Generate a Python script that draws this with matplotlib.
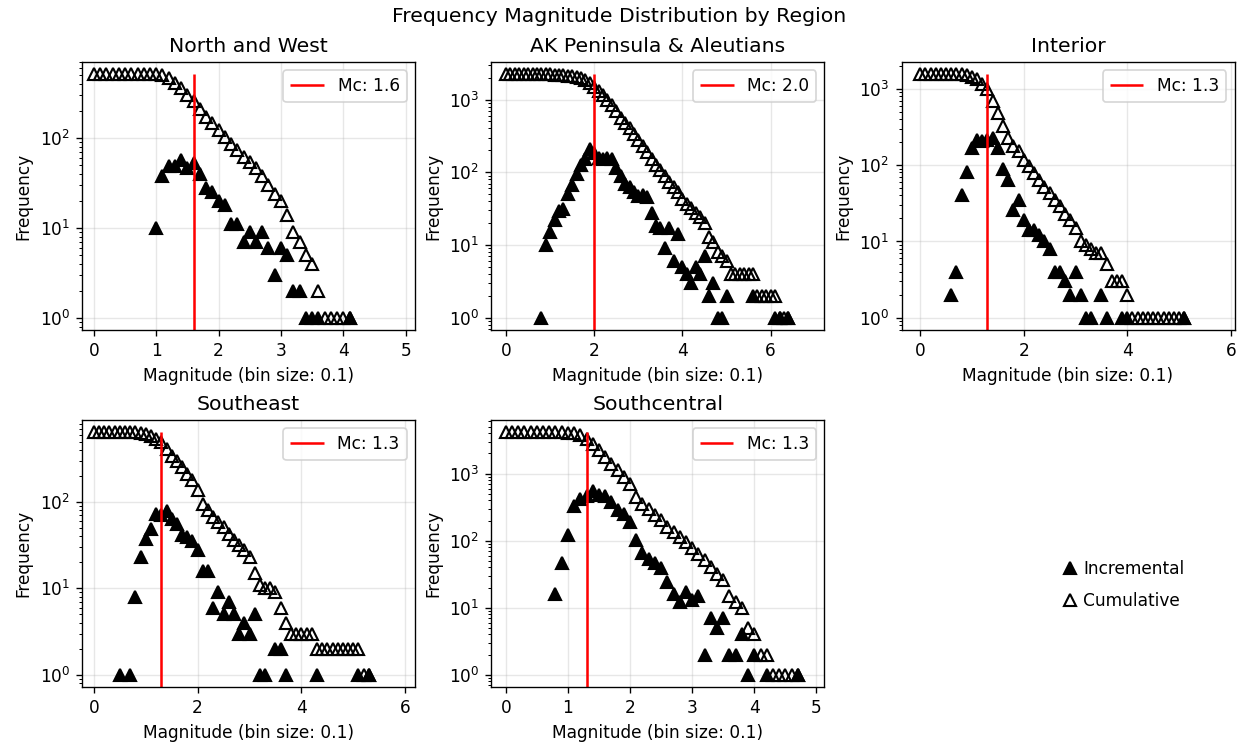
import numpy as np
import matplotlib
matplotlib.use("Agg")
import matplotlib.pyplot as plt
from matplotlib.lines import Line2D

# ---- data: event counts per 0.1 magnitude bin ----
regions = ["North and West", "AK Peninsula & Aleutians", "Interior", "Southeast", "Southcentral"]
mc_values = [1.6, 2.0, 1.3, 1.3, 1.3]

# first magnitude bin of each incremental series (cumulative series start at 0.0)
inc_start = [1.0, 0.8, 0.6, 0.5, 0.8]

nw_inc = [10, 38, 49, 49, 57, 46, 53, 40, 28, 25, 20, 18, 11, 11, 7, 9, 7, 9, 6, 3,
          6, 5, 2, 2, 1, 1, 1, 0, 0, 0, 0, 1]
nw_cum = [516] * 11 + [506, 462, 410, 360, 305, 262, 210, 173, 146, 122, 104, 86, 74, 62,
                       54, 46, 38, 30, 24, 20, 14, 9, 7, 5, 4, 2, 1, 1, 1, 1, 1]

ak_inc = [1, 10, 15, 22, 29, 31, 50, 67, 95, 124, 154, 211, 187, 158, 150, 158, 150, 115,
          88, 70, 62, 53, 47, 48, 46, 28, 18, 17, 9, 17, 6, 14, 5, 4, 3, 5, 4, 7, 2, 3,
          1, 1, 2, 0, 0, 0, 0, 0, 2, 0, 0, 0, 0, 1, 1, 0, 1]
ak_cum = [2230] * 9 + [2228, 2220, 2205, 2185, 2160, 2130, 2090, 2040, 1960, 1840, 1680,
                       1470, 1300, 1160, 1000, 830, 690, 560, 475, 405, 335, 280, 228, 190,
                       152, 125, 106, 90, 73, 62, 53, 43, 37, 32, 28, 24, 20, 13, 11, 8, 7,
                       6, 4, 4, 4, 4, 4, 4, 2, 2, 2, 2, 2, 1, 1, 1]

in_inc = [2, 4, 41, 82, 165, 212, 208, 212, 226, 165, 90, 63, 26, 35, 19, 14, 14, 12, 10,
          8, 4, 4, 3, 2, 4, 2, 1, 1, 0, 2, 1, 0, 0, 1, 1, 0, 0, 0, 0, 0, 0, 0, 0, 0, 0, 1]
in_cum = [1550] * 7 + [1548, 1544, 1503, 1440, 1330, 1170, 980, 690, 483, 323, 227, 176,
                       151, 117, 96, 78, 64, 52, 43, 35, 29, 23, 19, 15, 10, 9, 8, 7, 7, 5,
                       3, 3, 3, 2] + [1] * 11

se_inc = [1, 0, 1, 8, 23, 37, 49, 72, 70, 78, 63, 55, 41, 39, 35, 28, 16, 16, 6, 9, 5, 7,
          5, 3, 4, 3, 5, 1, 1, 0, 2, 2, 1, 0, 0, 0, 0, 0, 1, 0, 0, 0, 0, 0, 0, 0, 1, 0, 1]
se_cum = [644] * 9 + [636, 615, 588, 537, 491, 412, 345, 302, 253, 212, 178, 136, 96, 80,
                      67, 59, 51, 43, 36, 32, 28, 23, 15, 11, 10, 10, 9, 6, 4, 3, 3, 3, 3,
                      3] + [2] * 9 + [1, 1]

sc_inc = [16, 47, 121, 326, 420, 470, 560, 480, 465, 378, 285, 254, 191, 104, 65, 54, 47,
          39, 24, 16, 12, 17, 13, 15, 2, 7, 5, 7, 2, 2, 4, 1, 2, 0, 1, 0, 0, 0, 0, 1]
sc_cum = [4160] * 9 + [4144, 4097, 3976, 3710, 3310, 2790, 2220, 1770, 1407, 1120, 891,
                       709, 449, 357, 301, 240, 202, 161, 135, 114, 96, 77, 64, 51, 41, 32,
                       26, 15, 12, 10, 5, 4, 2, 2, 1, 1, 1, 1, 1]

incremental = [nw_inc, ak_inc, in_inc, se_inc, sc_inc]
cumulative = [nw_cum, ak_cum, in_cum, se_cum, sc_cum]

# ---- layout ----
W, H, DPI = 1239, 742, 122
fig = plt.figure(figsize=(W / DPI, H / DPI), dpi=DPI)

col_left = [82, 491.5, 901.5]
ax_w = 333
row_top = [62, 420]
ax_h = [268, 267]
x_limits = [(-0.19, 5.15), (-0.33, 7.22), (-0.36, 6.07), (-0.23, 6.19), (-0.23, 5.13)]

MS = 7.2
MEW = 1.25


def make_axes(row, col):
    left = col_left[col] / W
    bottom = 1 - (row_top[row] + ax_h[row]) / H
    return fig.add_axes([left, bottom, ax_w / W, ax_h[row] / H])


bin_size = 0.1
for i, name in enumerate(regions):
    ax = make_axes(i // 3, i % 3)
    inc = np.array(incremental[i], dtype=float)
    inc[inc == 0] = np.nan
    cum = np.array(cumulative[i], dtype=float)
    x_inc = inc_start[i] + bin_size * np.arange(len(inc))
    x_cum = bin_size * np.arange(len(cum))

    ax.plot(x_inc, inc, linestyle="none", marker="^", color="black",
            markersize=MS, markeredgewidth=MEW)
    ax.plot(x_cum, cum, linestyle="none", marker="^", markerfacecolor="none",
            markeredgecolor="black", markersize=MS, markeredgewidth=MEW)
    ax.set_yscale("log")
    ylim = ax.get_ylim()
    ax.vlines(mc_values[i], ylim[0], np.nanmax(cum), colors="red",
              linewidth=1.5, label=f"Mc: {mc_values[i]}")
    ax.set_ylim(ylim)
    ax.set_xlim(*x_limits[i])
    ax.grid(True, alpha=0.3)
    ax.set_title(name)
    ax.set_xlabel("Magnitude (bin size: 0.1)")
    ax.set_ylabel("Frequency")
    ax.legend(loc="upper right")

fig.suptitle("Frequency Magnitude Distribution by Region", y=0.99)

handles = [
    Line2D([], [], linestyle="none", marker="^", color="black",
           markersize=MS, markeredgewidth=MEW),
    Line2D([], [], linestyle="none", marker="^", markerfacecolor="none",
           markeredgecolor="black", markersize=MS, markeredgewidth=MEW),
]
fig.legend(handles, ["Incremental", "Cumulative"], loc="center",
           bbox_to_anchor=(1127 / W, 1 - 585 / H), frameon=False,
           handlelength=0, labelspacing=0.8)

fig.savefig("out.png", dpi=DPI)
